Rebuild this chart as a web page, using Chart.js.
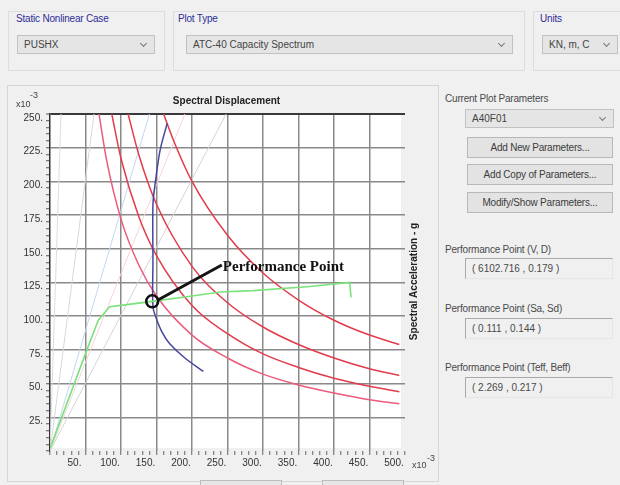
<!DOCTYPE html>
<html>
<head>
<meta charset="utf-8">
<script src="https://cdn.jsdelivr.net/npm/chart.js@4.4.1/dist/chart.umd.min.js"></script>
<style>
  body { margin: 0; width: 620px; height: 485px; overflow: hidden; background: #f0f0f0;
         font-family: "Liberation Sans", Arial, sans-serif; position: relative; }
  .grp { position: absolute; top: 11px; height: 58px; border: 1px solid #dddddd; }
  .cap { position: absolute; top: 13px; font-size: 10px; color: #2e2e98; letter-spacing: -0.2px; }
  .combo { position: absolute; height: 19px; background: #e5e5e5; border: 1px solid #c2c2c2;
           box-sizing: border-box; font-size: 10px; color: #444; line-height: 17px; padding-left: 6px; }
  .combo i { position: absolute; right: 8px; top: 5px; width: 4px; height: 4px;
             border-right: 1px solid #777; border-bottom: 1px solid #777; transform: rotate(45deg); }
  .lbl { position: absolute; font-size: 10px; color: #4a4a4a; letter-spacing: -0.2px; }
  .btn { position: absolute; left: 467px; width: 146px; height: 21px; background: #e3e3e3;
         border: 1px solid #b8b8b8; box-sizing: border-box; font-size: 10px; color: #3c3c3c;
         text-align: center; line-height: 19px; letter-spacing: -0.2px; }
  .fld { position: absolute; left: 465px; width: 148px; height: 21px; box-sizing: border-box;
         border-top: 1px solid #a9a9a9; border-left: 1px solid #a9a9a9;
         border-right: 1px solid #e6e6e6; border-bottom: 1px solid #e6e6e6;
         font-size: 10px; color: #4a4a4a; line-height: 19px; padding-left: 6px; }
  #panel { position: absolute; left: 7px; top: 85px; width: 430px; height: 395px; border: 1px solid #d6d6d6; }
  #plot { position: absolute; left: 0; top: 85px; }
  .bb { position: absolute; top: 480px; height: 20px; border: 1px solid #bdbdbd; background: #e6e6e6; }
</style>
</head>
<body>
<div class="grp" style="left:8px;width:155px"></div>
<div class="grp" style="left:173px;width:350px"></div>
<div class="grp" style="left:533px;width:95px"></div>
<div class="cap" style="left:16px">Static Nonlinear Case</div>
<div class="cap" style="left:178px">Plot Type</div>
<div class="cap" style="left:540px">Units</div>
<div class="combo" style="left:17px;top:35px;width:138px">PUSHX<i></i></div>
<div class="combo" style="left:186px;top:35px;width:327px">ATC-40 Capacity Spectrum<i></i></div>
<div class="combo" style="left:542px;top:35px;width:76px">KN, m, C<i></i></div>

<div id="panel"></div>
<canvas id="plot" width="440" height="400"></canvas>
<div class="bb" style="left:200px;width:80px"></div>
<div class="bb" style="left:322px;width:80px"></div>

<div class="lbl" style="left:445px;top:93px">Current Plot Parameters</div>
<div class="combo" style="left:465px;top:109px;width:149px">A40F01<i></i></div>
<div class="btn" style="top:137px">Add New Parameters...</div>
<div class="btn" style="top:164px">Add Copy of Parameters...</div>
<div class="btn" style="top:192px">Modify/Show Parameters...</div>

<div class="lbl" style="left:445px;top:244px">Performance Point (V, D)</div>
<div class="fld" style="top:258px">( 6102.716 , 0.179 )</div>
<div class="lbl" style="left:445px;top:303px">Performance Point (Sa, Sd)</div>
<div class="fld" style="top:318px">( 0.111 , 0.144 )</div>
<div class="lbl" style="left:445px;top:362px">Performance Point (Teff, Beff)</div>
<div class="fld" style="top:377px">( 2.269 , 0.217 )</div>

<script>
// all values in x10^-3 (Sd in m, Sa in g)
const xLabelValues = [50, 100, 150, 200, 250, 300, 350, 400, 450, 500];
const yLabelValues = [25, 50, 75, 100, 125, 150, 175, 200, 225, 250];

// capacity curve (green)
const capacitySd = [0, 3, 52, 68, 84, 100, 144, 200, 240, 286, 366, 422, 424];
const capacitySa = [2, 6, 75, 97, 107, 108, 111, 115, 118, 119, 122, 125, 114];

// single demand spectrum (blue)
const demandSd = [165, 155, 148, 145, 145, 145, 150, 158, 168, 190, 216];
const demandSa = [243, 223, 198, 183, 140, 107, 98, 88, 80, 69, 59];

// damped demand spectra (red)
const spec1Sd = [69, 80, 100, 125, 150, 200, 250, 300, 350, 400, 450, 492];
const spec1Sa = [250, 215, 172, 138, 115, 86, 69, 57, 49, 43, 38, 35];
const spec2Sd = [87, 100, 125, 150, 200, 250, 300, 350, 400, 450, 492];
const spec2Sa = [250, 217, 174, 145, 108, 87, 72, 62, 54, 48, 44];
const spec3Sd = [110, 125, 150, 200, 250, 300, 350, 400, 450, 492];
const spec3Sa = [250, 220, 183, 137, 110, 92, 79, 69, 61, 56];
const spec4Sd = [160, 175, 200, 250, 300, 350, 400, 450, 492];
const spec4Sa = [250, 229, 200, 160, 132, 112, 97, 86, 79];

// constant period lines from the origin, Sd where they reach the top
const periodTopSd = [15.5, 62, 140, 190, 248];
const periodTopSa = 250;
const periodColors = ['#dcdce4', '#d8d8dc', '#c4d6f2', '#f4d4dc', '#d4d4d4'];

// performance point and its leader
const perfSd = [144];
const perfSa = [111];
const leaderSd = [152, 242];
const leaderSa = [112, 138];

const pts = (xs, ys) => xs.map((x, i) => ({ x: x, y: ys[i] }));

const line = (data, color, width, extra) => Object.assign({
  data: data, showLine: true, borderColor: color, borderWidth: width,
  pointRadius: 0, tension: 0, fill: false
}, extra || {});

const datasets = [
  { data: pts(perfSd, perfSa), showLine: false, pointRadius: 6, pointBorderWidth: 2.5,
    pointBorderColor: '#111', pointBackgroundColor: 'rgba(0,0,0,0)' },
  line(pts(leaderSd, leaderSa), '#151515', 3),
  line(pts(capacitySd, capacitySa), '#7ce27c', 1.6),
  line(pts(demandSd, demandSa), '#46469e', 1.5, { tension: 0.3 }),
  line(pts(spec1Sd, spec1Sa), '#ec5a7c', 1.5, { cubicInterpolationMode: 'monotone' }),
  line(pts(spec2Sd, spec2Sa), '#e23c4c', 1.5, { cubicInterpolationMode: 'monotone' }),
  line(pts(spec3Sd, spec3Sa), '#e23c4c', 1.5, { cubicInterpolationMode: 'monotone' }),
  line(pts(spec4Sd, spec4Sa), '#e23c4c', 1.5, { cubicInterpolationMode: 'monotone' })
];
periodTopSd.forEach((sd, i) => {
  datasets.push(line([{ x: 0, y: 0 }, { x: sd, y: periodTopSa }], periodColors[i], 1));
});

// white plot area
const areaPlugin = {
  id: 'plotArea',
  beforeDraw(chart) {
    const { ctx, chartArea: a } = chart;
    ctx.save();
    ctx.fillStyle = '#ffffff';
    ctx.fillRect(a.left, a.top, a.right - a.left - 4, a.bottom - a.top - 3);
    ctx.restore();
  }
};

const textPlugin = {
  id: 'plotTexts',
  afterDraw(chart) {
    const { ctx, chartArea: a, scales: { x, y } } = chart;
    ctx.save();
    ctx.fillStyle = '#222';
    ctx.textBaseline = 'middle';

    ctx.font = 'bold 10px "Liberation Sans"';
    ctx.textAlign = 'center';
    ctx.fillText('Spectral Displacement', (a.left + a.right) / 2 - 1, a.top - 13);

    ctx.save();
    ctx.translate(a.right + 9, (a.top + a.bottom) / 2 - 1);
    ctx.rotate(-Math.PI / 2);
    ctx.fillText('Spectral Acceleration - g', 0, 0);
    ctx.restore();

    // x10^-3 multipliers
    ctx.font = '9px "Liberation Sans"';
    ctx.fillStyle = '#444';
    ctx.textAlign = 'left';
    ctx.fillText('x10', 16, 20);
    ctx.fillText('-3', 30, 11);
    ctx.fillText('x10', 412, 381);
    ctx.fillText('-3', 427, 374);

    // performance point label
    ctx.font = 'bold 15px "Liberation Serif"';
    ctx.fillStyle = '#111';
    ctx.fillText('Performance Point', x.getPixelForValue(leaderSd[1]) + 1, y.getPixelForValue(leaderSa[1]) + 2);
    ctx.restore();
  }
};

new Chart(document.getElementById('plot'), {
  type: 'scatter',
  data: { datasets: datasets },
  plugins: [areaPlugin, textPlugin],
  options: {
    responsive: false,
    animation: false,
    events: [],
    layout: { padding: { top: 29, right: 35, left: 0, bottom: 0 } },
    plugins: { legend: { display: false }, tooltip: { enabled: false }, title: { display: false } },
    scales: {
      x: {
        type: 'linear', min: 0, max: 500,
        afterFit(s) { s.height = 34; },
        border: { display: false },
        grid: {
          color: c => (xLabelValues.includes(c.tick.value) && c.tick.value < 500) ? '#8a8a8a' : 'rgba(0,0,0,0)',
          lineWidth: 1.5,
          tickColor: '#666', tickWidth: 1, tickLength: 4
        },
        ticks: {
          stepSize: 10, autoSkip: false, maxRotation: 0, padding: 2, labelOffset: -11,
          color: '#333', font: { family: 'Liberation Sans', size: 10 },
          callback: v => xLabelValues.includes(v) ? v + '.' : ''
        }
      },
      y: {
        type: 'linear', min: 0, max: 250,
        afterFit(s) { s.width = 50; },
        border: { display: true, color: '#333', width: 1.5 },
        grid: {
          color: c => c.tick.value === 250 ? '#3a3a3a'
            : (yLabelValues.includes(c.tick.value) ? '#8a8a8a' : 'rgba(0,0,0,0)'),
          lineWidth: c => c.tick.value === 250 ? 2 : 1.5,
          tickColor: '#555', tickWidth: 1, tickLength: 4
        },
        ticks: {
          stepSize: 5, autoSkip: false, padding: 3, labelOffset: 4,
          color: '#333', font: { family: 'Liberation Sans', size: 10 },
          callback: v => yLabelValues.includes(v) ? v + '.' : ''
        }
      }
    }
  }
});
</script>
</body>
</html>
